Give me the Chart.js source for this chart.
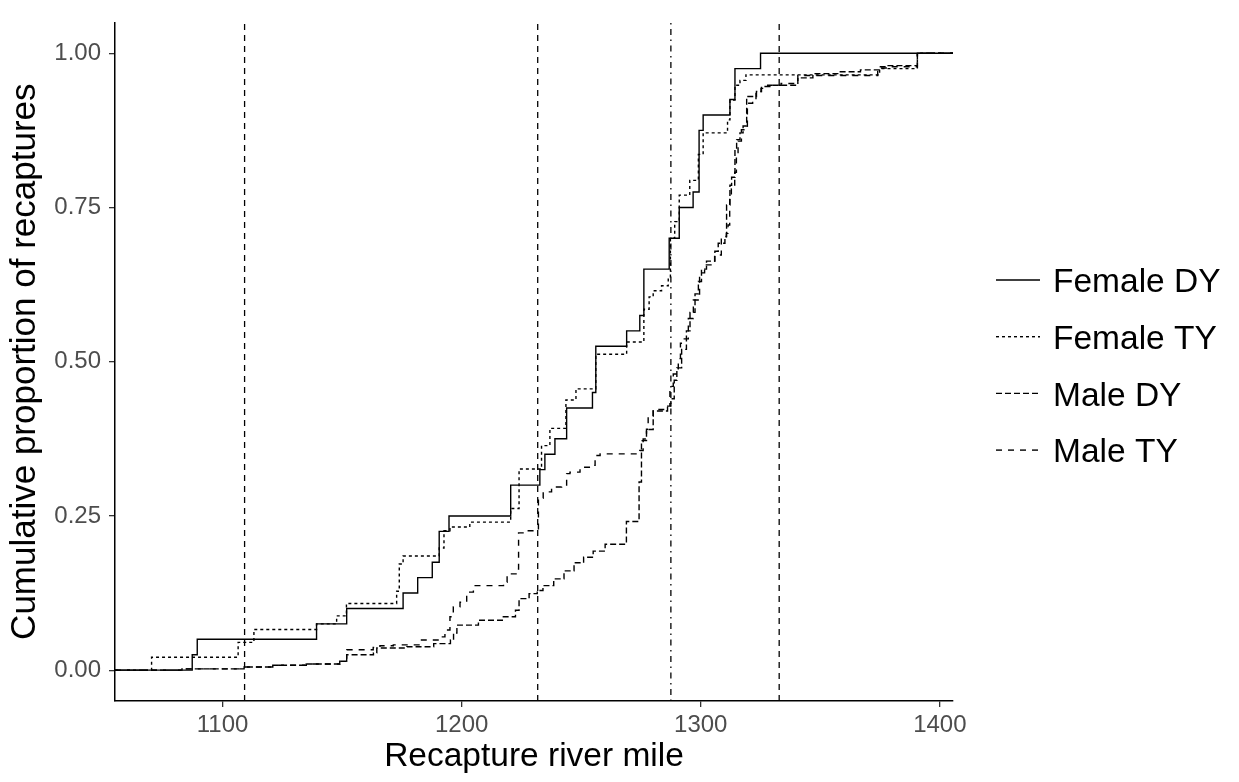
<!DOCTYPE html>
<html>
<head>
<meta charset="utf-8">
<script src="https://cdn.jsdelivr.net/npm/chart.js@4.4.1/dist/chart.umd.min.js"></script>
<style>
  html, body { margin: 0; padding: 0; background: #fff; }
  #wrap { width: 1239px; height: 782px; }
</style>
</head>
<body>
<div id="wrap"><canvas id="ecdfChart" width="1239" height="782"></canvas></div>
<script>
// axis limits and ticks
const xRange = [1055, 1405.5];
const yRange = [-0.05, 1.05];
const xTicks = [1100, 1200, 1300, 1400];
const yTicks = [0, 0.25, 0.5, 0.75, 1];

const seriesNames = ['Female DY', 'Female TY', 'Male DY', 'Male TY'];

// step positions (river mile) and cumulative proportion after each step
const femaleDyMile = [1087.3, 1089.4, 1139.3, 1151.9, 1175.5, 1181.6, 1187.7, 1190.6, 1194.7, 1220.5, 1232.7, 1234.8, 1239.0, 1243.9, 1254.7, 1256.1, 1269.0, 1274.5, 1276.2, 1286.8, 1291.0, 1296.8, 1299.3, 1301.0, 1312.2, 1314.3, 1325.0];
const femaleDyProp = [0.025, 0.05, 0.075, 0.10, 0.125, 0.15, 0.175, 0.225, 0.25, 0.30, 0.325, 0.35, 0.375, 0.425, 0.45, 0.525, 0.55, 0.575, 0.65, 0.70, 0.75, 0.775, 0.875, 0.90, 0.925, 0.975, 1.0];

const femaleTyMile = [1070.3, 1106.5, 1113.1, 1139.3, 1147.7, 1151.8, 1172.8, 1173.9, 1175.5, 1190.6, 1192.6, 1195.1, 1203.4, 1220.5, 1224.0, 1233.4, 1236.9, 1243.6, 1247.8, 1256.1, 1269.0, 1276.2, 1278.4, 1280.1, 1283.6, 1286.4, 1287.3, 1289.1, 1291.0, 1295.4, 1299.0, 1301.0, 1311.2, 1312.2, 1314.3, 1316.4, 1318.9, 1374.8, 1390.6];
const femaleTyProp = [0.021, 0.045, 0.066, 0.075, 0.088, 0.108, 0.128, 0.172, 0.185, 0.198, 0.226, 0.232, 0.240, 0.262, 0.326, 0.364, 0.392, 0.438, 0.456, 0.512, 0.532, 0.585, 0.605, 0.615, 0.623, 0.636, 0.70, 0.727, 0.77, 0.794, 0.836, 0.871, 0.892, 0.924, 0.948, 0.956, 0.965, 0.975, 1.0];

const maleDyMile = [1083, 1109, 1121, 1135, 1149, 1151.9, 1163.1, 1164.5, 1177.1, 1188.3, 1195.3, 1196.6, 1198.0, 1207, 1217, 1222.5, 1224.0, 1228.2, 1231.6, 1234, 1238.5, 1242.8, 1247, 1251, 1255, 1260, 1268.9, 1274.2, 1275.2, 1277.3, 1280.1, 1286.1, 1287.5, 1288.9, 1290.0, 1292.0, 1294.0, 1295.5, 1297.6, 1299.0, 1300.3, 1302.4, 1305.9, 1307.3, 1310.1, 1310.8, 1312.2, 1312.9, 1314.3, 1315.0, 1316.4, 1317.7, 1319.2, 1323.3, 1325.4, 1328.9, 1340.6, 1346.9, 1358, 1366.8, 1375, 1378, 1390.6];
const maleDyProp = [0.002, 0.005, 0.008, 0.010, 0.0144, 0.025, 0.028, 0.036, 0.038, 0.043, 0.049, 0.06, 0.073, 0.081, 0.0865, 0.097, 0.116, 0.124, 0.129, 0.137, 0.148, 0.161, 0.174, 0.183, 0.193, 0.204, 0.241, 0.305, 0.372, 0.39, 0.42, 0.428, 0.44, 0.47, 0.49, 0.52, 0.55, 0.58, 0.61, 0.63, 0.65, 0.663, 0.679, 0.692, 0.703, 0.754, 0.786, 0.799, 0.844, 0.860, 0.871, 0.882, 0.930, 0.938, 0.946, 0.948, 0.96, 0.967, 0.97, 0.973, 0.976, 0.98, 1.0];

const maleTyMile = [1083, 1109, 1121, 1135, 1149, 1151.9, 1163, 1165.8, 1171.4, 1182.6, 1190.9, 1193.0, 1195.1, 1196.5, 1199.3, 1202.1, 1204.9, 1217.5, 1219.0, 1223.1, 1223.8, 1226.6, 1232.1, 1234.1, 1237.6, 1241.8, 1243.9, 1245.3, 1249.5, 1254.4, 1255.8, 1257.9, 1274.5, 1275.9, 1277.3, 1278.0, 1280.1, 1285.7, 1287.1, 1288.5, 1290.6, 1291.5, 1293.1, 1294.8, 1296.9, 1299.5, 1301.6, 1305.1, 1305.8, 1308.6, 1310.7, 1311.4, 1312.1, 1312.8, 1314.2, 1314.9, 1315.6, 1317.0, 1319.1, 1319.5, 1321.7, 1323.1, 1325.2, 1328.0, 1333.6, 1340.6, 1374.0, 1390.6];
const maleTyProp = [0.002, 0.005, 0.008, 0.010, 0.0144, 0.033, 0.037, 0.0395, 0.041, 0.049, 0.054, 0.065, 0.0865, 0.1025, 0.11, 0.1265, 0.137, 0.1425, 0.156, 0.164, 0.2225, 0.226, 0.2785, 0.289, 0.297, 0.300, 0.3186, 0.321, 0.329, 0.332, 0.348, 0.3506, 0.356, 0.3746, 0.3906, 0.412, 0.4226, 0.428, 0.46, 0.48, 0.505, 0.53, 0.537, 0.57, 0.60, 0.644, 0.657, 0.66, 0.673, 0.70, 0.708, 0.7215, 0.764, 0.78, 0.807, 0.839, 0.8575, 0.876, 0.8815, 0.919, 0.9216, 0.935, 0.943, 0.948, 0.951, 0.964, 0.978, 1.0];

// reference river miles (vertical lines)
const refMiles = [1109.2, 1231.8, 1287.5, 1332.8];

// line styles
const seriesDash = [[], [3, 3], [6, 3], [6, 6]];
const refDash = [[6, 5], [6, 5], [1.5, 4.5, 6, 4.5], [6, 5]];
const fontFamily = '"Liberation Sans", Arial, sans-serif';

// ECDF padded out to both panel edges, like stat_ecdf(pad = TRUE)
function ecdfPoints(miles, props) {
  const pts = [{ x: xRange[0], y: 0 }];
  miles.forEach((m, i) => pts.push({ x: m, y: props[i] }));
  pts.push({ x: xRange[1], y: props[props.length - 1] });
  return pts;
}

const seriesData = [
  ecdfPoints(femaleDyMile, femaleDyProp),
  ecdfPoints(femaleTyMile, femaleTyProp),
  ecdfPoints(maleDyMile, maleDyProp),
  ecdfPoints(maleTyMile, maleTyProp),
];

const datasets = seriesNames.map((name, i) => ({
  label: name,
  data: seriesData[i],
  borderColor: '#000',
  borderWidth: 1.4,
  borderDash: seriesDash[i],
  pointRadius: 0,
  stepped: true,
  fill: false,
}));

refMiles.forEach((m, i) => {
  datasets.push({
    label: 'ref' + i,
    data: [{ x: m, y: yRange[0] }, { x: m, y: yRange[1] }],
    borderColor: '#000',
    borderWidth: 1.3,
    borderDash: refDash[i],
    pointRadius: 0,
    fill: false,
  });
});

// legend drawn in the right margin, like ggplot's guide
const sideLegend = {
  id: 'sideLegend',
  afterDraw(chart) {
    const ctx = chart.ctx;
    ctx.save();
    seriesNames.forEach((name, i) => {
      const y = 280 + i * 56.7;
      ctx.strokeStyle = '#000';
      ctx.lineWidth = 1.4;
      ctx.setLineDash(seriesDash[i]);
      ctx.beginPath();
      ctx.moveTo(996, y);
      ctx.lineTo(1040, y);
      ctx.stroke();
      ctx.setLineDash([]);
      ctx.fillStyle = '#000';
      ctx.font = '33.5px ' + fontFamily;
      ctx.textBaseline = 'middle';
      ctx.textAlign = 'left';
      ctx.fillText(name, 1053, y + 3);
    });
    ctx.restore();
  }
};

const ctx = document.getElementById('ecdfChart').getContext('2d');
new Chart(ctx, {
  type: 'line',
  data: { datasets },
  options: {
    responsive: false,
    animation: false,
    devicePixelRatio: 1,
    layout: { padding: { top: 15, right: 286, bottom: 0, left: 0 } },
    plugins: {
      legend: { display: false },
      tooltip: { enabled: false },
    },
    scales: {
      x: {
        type: 'linear',
        min: xRange[0],
        max: xRange[1],
        afterBuildTicks: (s) => { s.ticks = xTicks.map(v => ({ value: v })); },
        afterFit: (s) => { s.height = 81; },
        ticks: {
          callback: (v) => String(v),
          color: '#4d4d4d',
          font: { family: fontFamily, size: 24 },
          padding: 4,
          maxRotation: 0,
        },
        grid: { drawOnChartArea: false, drawTicks: true, tickLength: 6, tickColor: '#333', lineWidth: 1.3 },
        border: { display: true, color: '#000', width: 1.5 },
        title: {
          display: true,
          text: 'Recapture river mile',
          color: '#000',
          font: { family: fontFamily, size: 33.5 },
          padding: { top: 0, bottom: 5 },
        },
      },
      y: {
        type: 'linear',
        min: yRange[0],
        max: yRange[1],
        afterBuildTicks: (s) => { s.ticks = yTicks.map(v => ({ value: v })); },
        afterFit: (s) => { s.width = 115; },
        ticks: {
          callback: (v) => v.toFixed(2),
          color: '#4d4d4d',
          font: { family: fontFamily, size: 24 },
          padding: 8,
        },
        grid: { drawOnChartArea: false, drawTicks: true, tickLength: 6, tickColor: '#333', lineWidth: 1.3 },
        border: { display: true, color: '#000', width: 1.5 },
        title: {
          display: true,
          text: 'Cumulative proportion of recaptures',
          color: '#000',
          font: { family: fontFamily, size: 35 },
          padding: { top: 4, bottom: 0 },
        },
      },
    },
  },
  plugins: [sideLegend],
});
</script>
</body>
</html>
